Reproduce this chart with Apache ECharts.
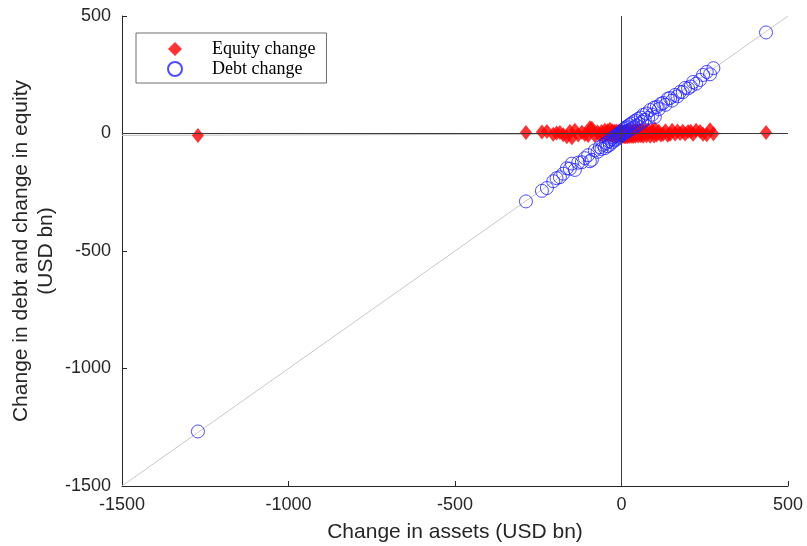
<!DOCTYPE html>
<html><head><meta charset="utf-8">
<script src="https://cdn.jsdelivr.net/npm/echarts@6/dist/echarts.min.js"></script>
<style>html,body{margin:0;padding:0;background:#fff}#c{width:807px;height:546px}</style>
</head><body><div id="c"></div>
<script>
// Change in assets (x), change in debt, change in equity (USD bn)
const assets = [-1272,-287,-239,-224,-205,-195,-185,-175,-164,-155,-149,-140,-130,-119,-110,-100,-95,-89,-80,-72,-65,-60,-55,-50,-46,-42,-38,-35,-31,-28,-25,-22,-19,-16,-13,-10,-8,-6,-4,-2,0,2,4,6,8,10,12,14,17,20,23,26,29,32,35,38,42,46,50,54,58,62,65,70,75,80,86,92,98,106,100,112,118,125,132,139,146,152,161,168,176,184,191,200,208,215,224,236,245,256,266,276,434];
const debt = [-1268,-289,-244,-232,-203,-190,-186,-171,-148,-150,-128,-155,-124,-122,-105,-92,-118,-112,-72,-78,-58,-66,-48,-62,-40,-54,-33,-48,-24,-38,-17,-30,-12,-26,-5,-18,-1,-14,4,-8,6,-5,14,0,20,3,25,6,30,12,36,17,42,22,48,27,55,34,62,40,68,50,79,58,85,66,100,80,110,113,70,104,126,130,122,148,151,140,164,158,177,176,194,192,200,219,212,228,249,262,252,278,430];
const equity = [-9,4,6,9,-3,2,4,-5,-14,8,-18,14,-6,5,-4,-8,25,22,-9,6,-7,8,-10,14,-6,12,-5,18,-8,12,-10,10,-9,11,-8,9,-7,8,-10,6,-6,7,-12,6,-14,7,-13,8,-14,9,-13,10,-12,11,-13,12,-12,13,-11,14,-10,13,-12,14,-10,15,-12,13,-11,-6,20,10,-6,-3,12,-7,-3,14,-2,11,0,10,-2,9,10,-3,14,9,-3,-5,16,-1,4];
const refLineX = [-1500, 500];
const refLineY = [-1500, 500];
const fitLineY = [-8, 0];
const tickValues = [-1500, -1000, -500, 0, 500];

const eqData = assets.map((x,i)=>[x, equity[i]]);
const debtData = assets.map((x,i)=>[x, debt[i]]);
const axisColor = '#262626';
const sans = 'Liberation Sans, Arial, sans-serif';
const chart = echarts.init(document.getElementById('c'));
chart.setOption({
  animation: false,
  backgroundColor: '#fff',
  grid: {left: 122, right: 19, top: 16, bottom: 60, containLabel: false, outerBoundsMode: 'none'},
  legend: {
    orient: 'vertical', left: 136, top: 33,
    data: [{name:'Equity change', icon:'diamond'}, {name:'Debt change', icon:'circle'}],
    itemWidth: 14, itemHeight: 14, itemGap: 2,
    padding: [7, 11, 5, 31],
    borderColor: '#6e6e6e', borderWidth: 1, backgroundColor: '#fff',
    textStyle: {fontFamily: 'Liberation Serif, DejaVu Serif, serif', fontSize: 18, color: '#000', padding: [0, 0, 0, 25]}
  },
  xAxis: {
    type: 'value', min: tickValues[0], max: tickValues[tickValues.length-1], interval: 500,
    name: 'Change in assets (USD bn)', nameLocation: 'middle', nameGap: 36, nameMoveOverlap: false,
    nameTextStyle: {fontFamily: sans, fontSize: 21, color: axisColor},
    axisLine: {onZero: false, lineStyle: {color: axisColor, width: 1}},
    axisTick: {inside: true, length: 5, lineStyle: {color: axisColor}},
    axisLabel: {fontFamily: sans, fontSize: 18, color: axisColor, margin: 10, formatter: v => String(v)},
    splitLine: {show: false}
  },
  yAxis: {
    type: 'value', min: tickValues[0], max: tickValues[tickValues.length-1], interval: 500,
    name: 'Change in debt and change in equity\n(USD bn)', nameLocation: 'middle', nameGap: 63, nameRotate: 90, nameMoveOverlap: false,
    nameTextStyle: {fontFamily: sans, fontSize: 21, color: axisColor, lineHeight: 25},
    axisLine: {onZero: false, lineStyle: {color: axisColor, width: 1}},
    axisTick: {inside: true, length: 5, lineStyle: {color: axisColor}},
    axisLabel: {fontFamily: sans, fontSize: 18, color: axisColor, margin: 11, formatter: v => String(v)},
    splitLine: {show: false}
  },
  series: [
    {
      name: 'ref', type: 'line', silent: true, symbol: 'none', z: 1,
      data: refLineX.map((x,i)=>[x, refLineY[i]]),
      lineStyle: {color: '#c8c8c8', width: 1}
    },
    {
      name: 'fit', type: 'line', silent: true, symbol: 'none', z: 1,
      data: refLineX.map((x,i)=>[x, fitLineY[i]]),
      lineStyle: {color: '#c0c0c0', width: 1}
    },
    {
      name: 'Equity change', type: 'scatter', symbol: 'diamond', symbolSize: [12, 15], z: 2,
      itemStyle: {color: '#ff0000'},
      data: eqData,
      markLine: {
        silent: true, symbol: 'none', label: {show: false},
        lineStyle: {color: '#3a3a3a', width: 1, type: 'solid'},
        data: [{xAxis: 0}, {yAxis: 0}]
      }
    },
    {
      name: 'Debt change', type: 'scatter', symbol: 'circle', symbolSize: 13, z: 3,
      itemStyle: {color: 'rgba(0,0,0,0)', borderColor: '#2020ff', borderWidth: 1},
      data: debtData
    }
  ]
});
</script></body></html>
